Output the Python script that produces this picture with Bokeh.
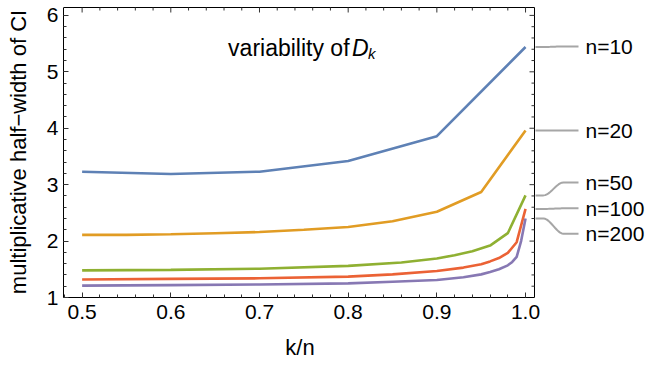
import numpy as np
from math import pi
from bokeh.plotting import figure
from bokeh.models import Range1d, LinearAxis, SingleIntervalTicker, PrintfTickFormatter
from bokeh.core.properties import value
from bokeh.embed import file_html
from bokeh.resources import INLINE

# ---- data ----
x_n10 = [0.5, 0.6, 0.7, 0.8, 0.9, 1.0]
y_n10 = [3.23, 3.19, 3.23, 3.42, 3.86, 5.44]

x_n20 = [0.5, 0.55, 0.6, 0.65, 0.7, 0.75, 0.8, 0.85, 0.9, 0.95, 1.0]
y_n20 = [2.11, 2.11, 2.12, 2.14, 2.16, 2.20, 2.25, 2.35, 2.52, 2.87, 3.96]

x_n50 = [0.5, 0.6, 0.7, 0.8, 0.86, 0.9, 0.92, 0.94, 0.96, 0.98, 1.0]
y_n50 = [1.48, 1.49, 1.51, 1.56, 1.62, 1.69, 1.75, 1.82, 1.92, 2.14, 2.81]

x_n100 = [0.5, 0.6, 0.7, 0.8, 0.85, 0.9, 0.93, 0.95, 0.96, 0.97, 0.98, 0.99, 1.0]
y_n100 = [1.32, 1.33, 1.34, 1.37, 1.41, 1.47, 1.53, 1.59, 1.64, 1.70, 1.79, 1.98, 2.57]

x_n200 = [0.5, 0.6, 0.7, 0.8, 0.85, 0.9, 0.93, 0.95, 0.96, 0.97, 0.98, 0.985, 0.99, 0.995, 1.0]
y_n200 = [1.21, 1.22, 1.23, 1.25, 1.28, 1.31, 1.36, 1.41, 1.45, 1.50, 1.57, 1.63, 1.72, 2.00, 2.40]

series_names = ["n=10", "n=20", "n=50", "n=100", "n=200"]
series_x = [x_n10, x_n20, x_n50, x_n100, x_n200]
series_y = [y_n10, y_n20, y_n50, y_n100, y_n200]
colors = ["#5E81B5", "#E19C24", "#8FB032", "#EB6235", "#8778B3"]
label_y = [5.45, 3.96, 3.04, 2.58, 2.13]   # callout label positions

x_major = [0.5, 0.6, 0.7, 0.8, 0.9, 1.0]
y_major = [1, 2, 3, 4, 5, 6]

# plot box (frame of the data area) in data units
X0, X1 = 0.479, 1.0101
Y0, Y1 = 1.0, 6.14

FONT = "Liberation Sans"
TICK_FS = "21px"
AXLAB_FS = "22px"
CALL_FS = "21px"
TITLE_FS = "23px"

W, H = 646, 366
LB, BB, TB = 63, 69, 6
BOX_W = 471.0                      # plot box width in px
BOX_H = H - BB - TB - 1            # plot box height in px
PXU = BOX_W / (X1 - X0)            # pixels per x unit
PYU = BOX_H / (Y1 - Y0)            # pixels per y unit
x_end = X0 + (W - LB) / PXU
y_end = Y1 + 1 / PYU

p = figure(width=W, height=H, output_backend="svg", toolbar_location=None,
           x_range=Range1d(X0, x_end), y_range=Range1d(Y0, y_end),
           min_border_left=LB, min_border_right=0, min_border_top=TB, min_border_bottom=BB,
           x_axis_location=None, y_axis_location=None)
p.grid.visible = False
p.outline_line_color = None
p.background_fill_color = "white"
p.border_fill_color = "white"

TICK_COL = "#333333"


def style_axis(ax):
    ax.major_tick_in = 5
    ax.major_tick_out = 0
    ax.minor_tick_in = 3
    ax.minor_tick_out = 0
    ax.major_tick_line_color = TICK_COL
    ax.minor_tick_line_color = TICK_COL
    ax.axis_line_color = "black"
    ax.major_label_text_font = FONT
    ax.axis_label_text_font = FONT
    ax.axis_label_text_font_style = "normal"
    ax.major_label_text_color = "black"
    ax.axis_label_text_color = "black"
    ax.major_label_text_font_size = TICK_FS
    ax.axis_label_text_font_size = AXLAB_FS


# the axis label is centred on the whole frame (which includes the callout strip);
# trailing no-break spaces move its centre back under the plot box
box_center = (X0 + X1) / 2
frame_center = (X0 + x_end) / 2
shift_px = (frame_center - box_center) * PXU
space_px = 0.278 * 22
n_sp = int(round(2 * shift_px / space_px))

bottom = LinearAxis(ticker=SingleIntervalTicker(interval=0.1, num_minor_ticks=5),
                    axis_label="k/n" + "\u00a0" * n_sp, bounds=(X0, X1),
                    formatter=PrintfTickFormatter(format="%.1f"))
style_axis(bottom)
bottom.major_label_standoff = 7
bottom.axis_label_standoff = 13
p.add_layout(bottom, "below")

left = LinearAxis(ticker=SingleIntervalTicker(interval=1, num_minor_ticks=5),
                  axis_label="multiplicative half\u2212width of CI", bounds=(Y0, Y1))
style_axis(left)
left.major_label_standoff = 5
left.axis_label_standoff = 13
p.add_layout(left, "left")

# top and right sides of the box, with inward ticks
p.segment(x0=[X0], y0=[Y1], x1=[X1], y1=[Y1], line_color="black", line_width=1)
p.segment(x0=[X1], y0=[Y0], x1=[X1], y1=[Y1], line_color="black", line_width=1)

x_minor = [v for v in np.round(np.arange(0.5, 1.0001, 0.02), 3) if not np.isclose(v * 10, round(v * 10))]
y_minor = [v for v in np.round(np.arange(1.0, 6.0001, 0.2), 3) if not np.isclose(v, round(v))]

p.ray(x=x_major, y=[Y1] * len(x_major), length=5, angle=-pi / 2, length_units="screen",
      line_color=TICK_COL, line_width=1)
p.ray(x=x_minor, y=[Y1] * len(x_minor), length=3, angle=-pi / 2, length_units="screen",
      line_color=TICK_COL, line_width=1)
p.ray(x=[X1] * len(y_major), y=y_major, length=5, angle=pi, length_units="screen",
      line_color=TICK_COL, line_width=1)
p.ray(x=[X1] * len(y_minor), y=y_minor, length=3, angle=pi, length_units="screen",
      line_color=TICK_COL, line_width=1)

for xs, ys, c in zip(series_x, series_y, colors):
    p.line(xs, ys, line_color=c, line_width=2.6)

# title inside plot
TX, TY = 0.6646, 5.43
p.text(x=[TX], y=[TY], text=["variability of"], text_font=value(FONT), text_font_size=TITLE_FS,
       text_baseline="middle", text_color="black")
p.text(x=[TX], y=[TY], x_offset=124, text=["D"], text_font=value(FONT), text_font_size=TITLE_FS,
       text_font_style="italic", text_baseline="middle", text_color="black")
p.text(x=[TX], y=[TY], x_offset=140, y_offset=6, text=["k"], text_font=value(FONT),
       text_font_size="15px", text_font_style="italic", text_baseline="middle", text_color="black")


# callouts (gray leader lines from the box edge to the labels)
def px_to_x(dpx):
    return X1 + dpx / PXU


xa, xb, xc, xd, xl = px_to_x(1), px_to_x(9), px_to_x(29), px_to_x(44), px_to_x(51)
lx, ly_all = [], []
for ys, ly in zip(series_y, label_y):
    y0 = ys[-1]
    px_, py_ = [xa, xb], [y0, y0]
    nseg = 12
    for i in range(1, nseg + 1):
        t = i / nseg
        s = t * t * (3 - 2 * t)
        px_.append(xb + (xc - xb) * t)
        py_.append(y0 + (ly - y0) * s)
    px_.append(xd)
    py_.append(ly)
    lx.append(px_)
    ly_all.append(py_)
p.multi_line(xs=lx, ys=ly_all, line_color="#A6A6A6", line_width=2)

p.text(x=[xl] * len(series_names), y=label_y, text=series_names, text_font=value(FONT),
       text_font_size=CALL_FS, text_baseline="middle", text_color="black")

open("out.html", "w").write(file_html(p, INLINE))
